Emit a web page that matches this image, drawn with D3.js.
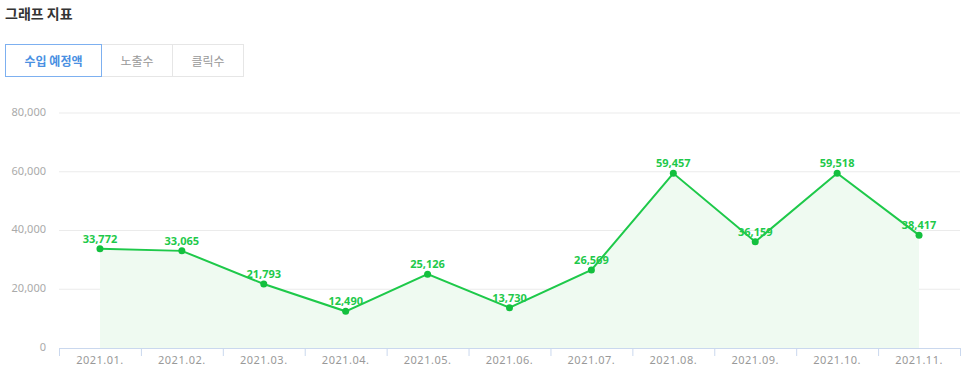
<!DOCTYPE html>
<html>
<head>
<meta charset="utf-8">
<script src="https://cdn.jsdelivr.net/npm/d3@7"></script>
<style>
	body { margin: 0; background: #fff; font-family: "Noto Sans CJK KR", "Noto Sans", sans-serif; }
	.title { position: absolute; left: 5px; top: 3px; font-size: 14px; font-weight: bold; color: #333; }
	.tabs { position: absolute; left: 5px; top: 44px; display: flex; }
	.tab { height: 31px; line-height: 31px; text-align: center; font-size: 12px; color: #999;
		border: 1px solid #e6e6e6; margin-left: -1px; background: #fff; }
	.tab.on { color: #4a90e2; border-color: #7db0f0; font-weight: bold; position: relative; z-index: 1; margin-left: 0; }
	#chart { position: absolute; left: 0; top: 0; }
</style>
</head>
<body>
<svg id="chart" width="966" height="374"></svg>
<div class="title">그래프 지표</div>
<div class="tabs">
	<div class="tab on" style="width:95px">수입 예정액</div>
	<div class="tab" style="width:70px">노출수</div>
	<div class="tab" style="width:70px">클릭수</div>
</div>
<script>
const months = ["2021.01.", "2021.02.", "2021.03.", "2021.04.", "2021.05.", "2021.06.",
	"2021.07.", "2021.08.", "2021.09.", "2021.10.", "2021.11."];
const revenue = [33772, 33065, 21793, 12490, 25126, 13730, 26569, 59457, 36159, 59518, 38417];
const yTicks = [0, 20000, 40000, 60000, 80000];

function drawChart() {
	const svg = d3.select('#chart');
	const margin = { left: 59, right: 6, top: 113, bottom: 26 };
	const width = 966 - margin.left - margin.right;
	const height = 374 - margin.top - margin.bottom;

	const g = svg.append('g').attr('transform', `translate(${margin.left},${margin.top})`);

	const x = d3.scaleBand().domain(months).range([0, width]);
	const y = d3.scaleLinear().domain([0, 80000]).range([height, 0]);
	const cx = d => x(d) + x.bandwidth() / 2;

	// grid lines
	g.selectAll('line.grid').data(yTicks.filter(t => t > 0)).enter()
		.append('line')
		.attr('x1', 0).attr('x2', width)
		.attr('y1', d => y(d)).attr('y2', d => y(d))
		.attr('stroke', '#ebebeb').attr('stroke-width', 1);

	// y labels
	g.selectAll('text.ylab').data(yTicks).enter()
		.append('text')
		.attr('x', -13).attr('y', d => y(d))
		.attr('text-anchor', 'end').attr('dominant-baseline', 'middle')
		.attr('fill', '#aaa').attr('font-size', 11)
		.attr('font-family', 'Noto Sans, sans-serif')
		.text(d => d3.format(',')(d));

	const pts = months.map((m, i) => ({ m: m, v: revenue[i] }));

	// area
	const area = d3.area().x(d => cx(d.m)).y0(height).y1(d => y(d.v));
	g.append('path').datum(pts).attr('d', area).attr('fill', '#effaf1');

	// line
	const line = d3.line().x(d => cx(d.m)).y(d => y(d.v));
	g.append('path').datum(pts).attr('d', line)
		.attr('fill', 'none').attr('stroke', '#1ec94a').attr('stroke-width', 2);

	// x axis
	const xAxis = g.append('g').attr('transform', `translate(0,${height})`)
		.call(d3.axisBottom(x).tickSize(0).tickPadding(8));
	xAxis.select('.domain').attr('stroke', '#cad8ee');
	xAxis.selectAll('text').attr('fill', '#999').attr('font-size', 11)
		.attr('font-family', 'Noto Sans, sans-serif').attr('letter-spacing', 0.5);
	const edges = months.map(m => x(m)).concat([width]);
	xAxis.selectAll('line.edge').data(edges).enter()
		.append('line').attr('class', 'edge')
		.attr('x1', d => d + 0.5).attr('x2', d => d + 0.5)
		.attr('y1', 0).attr('y2', 8)
		.attr('stroke', '#cad8ee');

	// points
	g.selectAll('circle').data(pts).enter()
		.append('circle')
		.attr('cx', d => cx(d.m)).attr('cy', d => y(d.v)).attr('r', 3.5)
		.attr('fill', '#13c03e');

	// value labels
	g.selectAll('text.val').data(pts).enter()
		.append('text')
		.attr('x', d => cx(d.m)).attr('y', d => y(d.v) - 6)
		.attr('text-anchor', 'middle')
		.attr('fill', '#1ec94a').attr('font-size', 11).attr('font-weight', 'bold')
		.attr('font-family', 'Noto Sans, sans-serif')
		.text(d => d3.format(',')(d.v));
}

drawChart();
</script>
</body>
</html>
